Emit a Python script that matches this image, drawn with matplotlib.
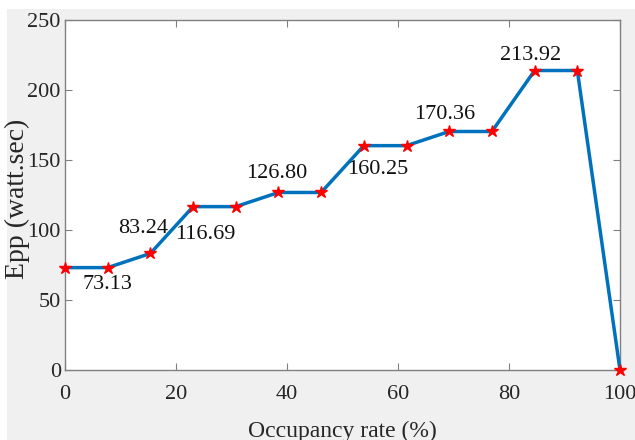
import matplotlib
matplotlib.use("Agg")
import matplotlib.pyplot as plt
from matplotlib.patches import Rectangle

# occupancy rate (%) and energy per packet
occupancy = [0, 7.69, 15.38, 23.08, 30.77, 38.46, 46.15, 53.85,
             61.54, 69.23, 76.92, 84.62, 92.31, 100]
epp = [73.13, 73.13, 83.24, 116.69, 116.69, 126.80, 126.80, 160.25,
       160.25, 170.36, 170.36, 213.92, 213.92, 0]
# which points get a value label
labelled = [1, 2, 3, 5, 7, 9, 11]
label_offsets = [(0, -12), (-5, 18), (9, -20), (-1, 14), (10, -17), (-3, 12), (-3, 11)]

plt.rcParams['font.family'] = ['Liberation Serif', 'DejaVu Serif']

fig = plt.figure(figsize=(6.35, 4.4), dpi=100, facecolor='white')
# gray MATLAB figure background with a small white border top/left
fig.patches.append(Rectangle((7 / 635, 0), 1, 1 - 9 / 440, transform=fig.transFigure,
                             facecolor='#f0f0f0', edgecolor='none', zorder=-10))

ax = fig.add_axes([65 / 635, 70 / 440, 555 / 635, 350 / 440])
ax.plot(occupancy, epp, color='#0072BD', linewidth=2.5, marker='*',
        markersize=9, markerfacecolor='red', markeredgecolor='red', clip_on=False, zorder=3)

for i, (dx, dy) in zip(labelled, label_offsets):
    ax.annotate(f"{epp[i]:.2f}", (occupancy[i], epp[i]), xytext=(dx, dy),
                textcoords='offset points', ha='center', va='center',
                fontsize=16, color='#111111')

ax.set_xlim(0, 100)
ax.set_ylim(0, 250)
ax.set_xticks(range(0, 101, 20))
ax.set_yticks(range(0, 251, 50))
ax.tick_params(direction='in', top=True, right=True, length=5, width=0.8,
               colors='#808080', labelcolor='#262626', labelsize=16)
ax.tick_params(axis='x', pad=11)
ax.tick_params(axis='y', pad=3)
for s in ax.spines.values():
    s.set_color('#808080')
    s.set_linewidth(1.0)
ax.set_xlabel("Occupancy rate (%)", fontsize=17, color='#262626', va='baseline')
ax.xaxis.set_label_coords(0.5, -0.19)
ax.set_ylabel("Epp (watt.sec)", fontsize=20, color='#262626', va='center')
ax.yaxis.set_label_coords(-0.085, 0.49)

fig.savefig("out.png", dpi=100, facecolor=fig.get_facecolor())
